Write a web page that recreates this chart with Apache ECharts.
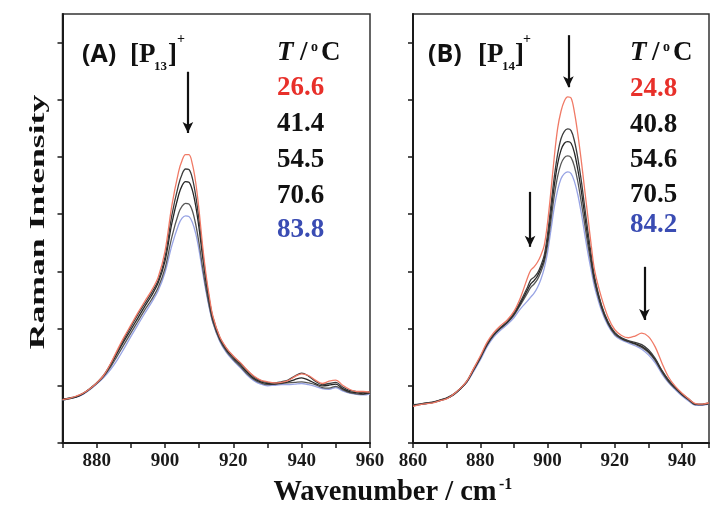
<!DOCTYPE html>
<html><head><meta charset="utf-8">
<script src="https://cdn.jsdelivr.net/npm/echarts@6/dist/echarts.min.js"></script>
<style>html,body{margin:0;padding:0;background:#fff}#c{width:712px;height:515px}</style>
</head><body><div id="c"></div>
<script>
// Panel A: [P13]+
const xA = [870,872,874,876,878,880,882,884,886,888,890,892,894,896,898,900,902,904,905,906,907,908,909,910,911,912,913,914,916,918,920,922,924,926,928,930,932,934,936,938,940,942,944,946,948,950,952,954,956,958,960];
const a26_6 = [0.76,0.78,0.82,0.87,0.95,1.05,1.18,1.38,1.62,1.85,2.06,2.27,2.47,2.66,2.90,3.35,4.15,4.75,4.94,5.04,5.04,4.88,4.55,4.05,3.45,2.95,2.55,2.22,1.86,1.66,1.52,1.41,1.28,1.17,1.10,1.07,1.05,1.06,1.09,1.16,1.21,1.18,1.10,1.04,1.08,1.10,1.01,0.94,0.90,0.90,0.89];
const a41_4 = [0.75,0.77,0.81,0.87,0.95,1.05,1.18,1.37,1.60,1.82,2.03,2.24,2.43,2.62,2.84,3.25,3.98,4.52,4.70,4.79,4.78,4.63,4.32,3.88,3.35,2.88,2.50,2.20,1.85,1.65,1.51,1.40,1.27,1.16,1.09,1.06,1.05,1.07,1.10,1.17,1.22,1.17,1.08,1.02,1.04,1.06,0.98,0.92,0.90,0.88,0.90];
const a54_5 = [0.77,0.78,0.80,0.86,0.95,1.05,1.17,1.35,1.57,1.78,1.98,2.18,2.38,2.57,2.80,3.18,3.84,4.34,4.50,4.57,4.56,4.42,4.14,3.74,3.26,2.82,2.46,2.17,1.83,1.63,1.49,1.37,1.24,1.13,1.07,1.04,1.03,1.05,1.07,1.11,1.14,1.10,1.04,1.00,1.01,1.03,0.95,0.90,0.88,0.86,0.88];
const a70_6 = [0.76,0.79,0.81,0.86,0.94,1.04,1.16,1.32,1.52,1.72,1.92,2.12,2.32,2.50,2.72,3.05,3.60,4.02,4.14,4.19,4.18,4.06,3.82,3.48,3.07,2.70,2.38,2.12,1.80,1.60,1.46,1.34,1.21,1.11,1.05,1.02,1.03,1.04,1.05,1.06,1.07,1.05,1.02,0.97,0.96,0.99,0.93,0.88,0.86,0.85,0.87];
const a83_8 = [0.75,0.78,0.80,0.85,0.93,1.03,1.14,1.28,1.45,1.65,1.86,2.06,2.26,2.45,2.66,2.98,3.45,3.82,3.93,3.97,3.96,3.86,3.66,3.36,2.99,2.65,2.35,2.10,1.78,1.58,1.44,1.32,1.19,1.09,1.03,1.00,1.01,1.02,1.02,1.03,1.04,1.02,0.99,0.95,0.94,0.97,0.91,0.87,0.85,0.84,0.86];

// Panel B: [P14]+
const xB = [860,862,864,866,868,870,872,874,876,878,880,882,884,886,888,890,892,894,895,896,897,898,899,900,901,902,903,904,905,906,907,908,909,910,911,912,913,914,916,918,920,922,924,926,928,930,932,934,936,938,940,942,944,946,948];
const b24_8 = [0.64,0.67,0.69,0.70,0.74,0.77,0.85,0.95,1.08,1.30,1.52,1.76,1.93,2.05,2.15,2.30,2.55,2.88,3.02,3.08,3.16,3.28,3.45,3.85,4.40,5.00,5.50,5.80,5.98,6.05,6.03,5.78,5.40,4.95,4.45,3.95,3.45,3.02,2.55,2.20,1.98,1.88,1.84,1.87,1.92,1.86,1.68,1.40,1.15,0.99,0.87,0.77,0.69,0.68,0.70];
const b40_8 = [0.66,0.68,0.70,0.71,0.74,0.78,0.85,0.95,1.08,1.29,1.50,1.73,1.90,2.02,2.12,2.27,2.48,2.72,2.85,2.90,2.97,3.10,3.28,3.65,4.15,4.65,5.05,5.32,5.45,5.49,5.46,5.28,4.98,4.60,4.15,3.70,3.28,2.90,2.42,2.12,1.93,1.84,1.79,1.76,1.72,1.63,1.48,1.27,1.10,0.97,0.86,0.77,0.68,0.68,0.70];
const b54_6 = [0.65,0.67,0.69,0.71,0.75,0.78,0.84,0.94,1.07,1.28,1.49,1.72,1.89,2.01,2.11,2.25,2.45,2.67,2.78,2.84,2.92,3.05,3.22,3.55,4.02,4.50,4.88,5.12,5.24,5.27,5.24,5.07,4.78,4.42,4.00,3.58,3.20,2.85,2.40,2.10,1.92,1.83,1.78,1.74,1.69,1.60,1.46,1.26,1.09,0.96,0.85,0.76,0.68,0.67,0.69];
const b70_5 = [0.67,0.68,0.70,0.72,0.75,0.79,0.85,0.95,1.07,1.27,1.48,1.71,1.88,2.00,2.10,2.23,2.42,2.62,2.72,2.78,2.86,2.99,3.16,3.46,3.88,4.32,4.66,4.88,4.99,5.02,4.99,4.83,4.57,4.22,3.84,3.46,3.12,2.80,2.37,2.08,1.90,1.82,1.77,1.73,1.67,1.58,1.44,1.24,1.07,0.95,0.84,0.75,0.67,0.67,0.69];
const b84_2 = [0.66,0.68,0.69,0.71,0.74,0.78,0.84,0.94,1.06,1.25,1.45,1.68,1.85,1.97,2.07,2.19,2.35,2.48,2.55,2.62,2.72,2.86,3.05,3.33,3.72,4.12,4.42,4.62,4.71,4.74,4.71,4.57,4.34,4.03,3.67,3.32,3.01,2.72,2.32,2.05,1.88,1.80,1.75,1.70,1.64,1.54,1.40,1.21,1.05,0.93,0.82,0.73,0.66,0.66,0.68];

const tempsA = ['26.6','41.4','54.5','70.6','83.8'];
const tempsB = ['24.8','40.8','54.6','70.5','84.2'];
const yTicks = [0,1,2,3,4,5,6,7];
// arrows (data coordinates): [x, yStart, yEnd]
const arrowsA = [[906.7, 6.49, 5.42]];
const arrowsB = [[906.2, 7.13, 6.22],[894.8, 4.39, 3.43],[928.8, 3.08, 2.15]];

const lineColors = ['#f07a66','#3c3c3c','#262626','#575757','#97a3e4'];
const tempColors = ['#e8302a','#111','#111','#111','#3a4cb3'];
const serif = '"Liberation Serif","Times New Roman",serif';

function mkSeries(xs, ys, color, gi, arrows) {
  const s = {
    type:'line', xAxisIndex:gi, yAxisIndex:gi,
    data: xs.map((x,i)=>[x, ys[i]]),
    symbol:'none', showSymbol:false, smooth:0.35, silent:true,
    lineStyle:{color:color, width:1.3}
  };
  if (arrows) {
    s.markLine = {
      silent:true, symbol:['none','arrow'], symbolSize:[8,11], animation:false,
      label:{show:false}, emphasis:{disabled:true},
      lineStyle:{color:'#111', width:2.2, type:'solid'},
      data: arrows.map(a => [{coord:[a[0], a[1]]},{coord:[a[0], a[2]]}])
    };
  }
  return s;
}

const seriesA = [a83_8, a70_6, a54_5, a41_4, a26_6];
const seriesB = [b84_2, b70_5, b54_6, b40_8, b24_8];
const colOrder = [4,3,2,1,0];
const series = [];
seriesA.forEach((d,i)=>series.push(mkSeries(xA, d, lineColors[colOrder[i]], 0, i===4 ? arrowsA : null)));
seriesB.forEach((d,i)=>series.push(mkSeries(xB, d, lineColors[colOrder[i]], 1, i===4 ? arrowsB : null)));

function xAxisCfg(gi, min, max) {
  return {
    gridIndex:gi, type:'value', min:min, max:max, interval:10,
    axisLine:{onZero:false, lineStyle:{color:'#1a1a1a', width:2}},
    axisTick:{length:5, lineStyle:{color:'#1a1a1a', width:1.5}},
    axisLabel:{formatter:v => (v % 20 === 0 ? String(v) : ''), fontFamily:serif, fontWeight:'bold', fontSize:19, color:'#1a1a1a', margin:9},
    splitLine:{show:false}
  };
}
function yAxisCfg(gi) {
  return {
    gridIndex:gi, type:'value', min:0, max:7.5, interval:1,
    axisLine:{show:true, onZero:false, lineStyle:{color:'#1a1a1a', width:2}},
    axisTick:{show:true, length:5, customValues:yTicks, lineStyle:{color:'#1a1a1a', width:1.5}},
    axisLabel:{show:false}, splitLine:{show:false}
  };
}

function t(x, y, text, font, fill, extra) {
  return Object.assign({type:'text', x:x, y:y, silent:true, style:{text:text, font:font, fill:fill||'#111', align:'left', verticalAlign:'middle'}}, extra||{});
}
const g = [];
function panelText(ox, lab, sub, subX, brX, plusX, tX, slX, oX, cX, temps, ys) {
  g.push(t(ox, 55, lab, 'bold 25px "Open Sans",sans-serif'));
  g.push(t(subX[0], 55, '[P', 'bold 27px ' + serif));
  g.push(t(subX[1], 67, sub, 'bold 13px ' + serif));
  g.push(t(brX, 55, ']', 'bold 27px ' + serif));
  g.push(t(plusX, 39, '+', 'bold 14px ' + serif));
  g.push(t(tX, 53, 'T', 'italic bold 27px ' + serif));
  g.push(t(slX, 53, '/', 'bold 27px ' + serif));
  g.push(t(oX, 47, 'o', 'bold 14px ' + serif));
  g.push(t(cX, 53, 'C', 'bold 27px ' + serif));
  temps.forEach((s,i)=>g.push(t(tX, ys[i], s, 'bold 27px ' + serif, tempColors[i])));
}
panelText(82, '(A)', '13', [130,154], 168, 177, 277, 300, 311, 321, tempsA, [88,124,160,196,230]);
panelText(428, '(B)', '14', [478,502], 515, 523, 630, 652, 663, 673, tempsB, [89,125,160,195,225]);

g.push({type:'text', x:385, y:492, scaleX:0.95, silent:true, style:{text:'Wavenumber / cm', font:'bold 30px ' + serif, fill:'#111', align:'center', verticalAlign:'middle'}});
g.push({type:'text', x:499, y:485, silent:true, style:{text:'-1', font:'bold 16px ' + serif, fill:'#111', align:'left', verticalAlign:'middle'}});
g.push({type:'text', x:38, y:222, rotation:Math.PI/2, scaleX:1.62, silent:true, style:{text:'Raman Intensity', font:'bold 22px ' + serif, fill:'#111', align:'center', verticalAlign:'middle'}});

const chart = echarts.init(document.getElementById('c'), null, {renderer:'canvas'});
chart.setOption({
  animation:false,
  backgroundColor:'#fff',
  grid:[
    {left:62.5, top:14, width:307.5, height:429, show:true, borderColor:'#333', borderWidth:1.5, backgroundColor:'transparent'},
    {left:413, top:14, width:300.7, height:429, show:true, borderColor:'#333', borderWidth:1.5, backgroundColor:'transparent'}
  ],
  xAxis:[xAxisCfg(0, 870, 960), xAxisCfg(1, 860, 948)],
  yAxis:[yAxisCfg(0), yAxisCfg(1)],
  series: series,
  graphic: g
});
</script></body></html>
